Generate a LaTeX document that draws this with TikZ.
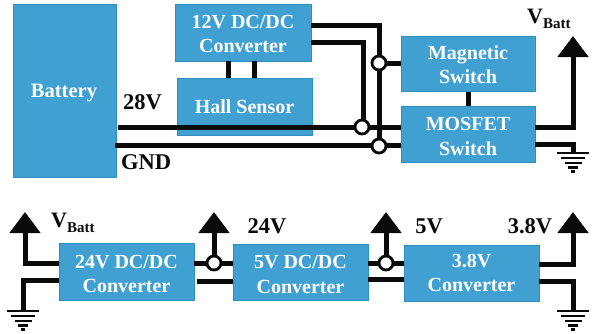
\documentclass[tikz,border=0pt]{standalone}
\usepackage{fontspec}
\setmainfont{Liberation Serif}
\usetikzlibrary{arrows.meta}
\definecolor{boxblue}{HTML}{41A0D2}
\definecolor{boxedge}{HTML}{2F8FC0}
\definecolor{ink}{HTML}{0A0A0A}
\tikzset{
  blockbox/.style={draw=boxedge,fill=boxblue,line width=1pt,text=white,align=center,font=\fontsize{20}{24.5}\selectfont\bfseries,inner sep=0pt},
  wire/.style={draw=ink,line width=5pt,line join=miter},
  uparrow/.style={wire,-{Triangle[width=30pt,length=21pt]},shorten >=0pt},
  junction/.style={circle,draw=ink,fill=white,line width=2.8pt,minimum size=14pt,inner sep=0pt},
  label/.style={text=ink,font=\fontsize{22.5}{24}\selectfont\bfseries,inner sep=0pt},
  vbatt/.style={text=ink,inner sep=0pt,font=\fontsize{22}{24}\selectfont\bfseries},
  pics/earth/.style={code={
    \draw[ink,line width=2.6pt] (-16,0)--(16,0) (-12,5)--(12,5) (-8.5,10)--(8.5,10) (-5,14.5)--(5,14.5) (-2,18.5)--(2,18.5);
  }}
}
\newcommand{\vbt}{V\raisebox{-4.5pt}{\fontsize{15}{16}\selectfont\bfseries Batt}}
\newcommand{\dropa}{\rule{0pt}{16pt}}
\newcommand{\dropb}{\rule{0pt}{18pt}}
\begin{document}
\begin{tikzpicture}[x=1pt,y=-1pt]
\useasboundingbox (0,0) rectangle (592,333);
% blocks
\node[blockbox,minimum width=103pt,minimum height=173pt] (bat) at (64.5,90.5) {};
\node[text=white,font=\fontsize{20.5}{22}\selectfont\bfseries,inner sep=0pt] (batlabel) at (64,93) {Battery};
\node[blockbox,minimum width=136pt,minimum height=57pt] (c12) at (243,32.5) {\dropa 12V DC/DC\\Converter};
\node[blockbox,minimum width=135pt,minimum height=57pt] (hall) at (244.5,106.5) {Hall Sensor};
\node[blockbox,minimum width=134pt,minimum height=55pt] (mag) at (468,63.5) {\dropa Magnetic\\Switch};
\node[blockbox,minimum width=134pt,minimum height=56pt] (mos) at (468,134) {\dropb MOSFET\\Switch};
\node[blockbox,minimum width=135pt,minimum height=57pt] (c24) at (126.5,271.5) {\dropb 24V DC/DC\\Converter};
\node[blockbox,minimum width=135pt,minimum height=56pt] (c5) at (300.5,272) {\dropb 5V DC/DC\\Converter};
\node[blockbox,minimum width=135pt,minimum height=56pt] (c38) at (471.5,273) {3.8V\\Converter};
% named points
\coordinate (p28) at (118,127.5);
\coordinate (pgnd) at (115,145);
\coordinate (c12a) at (311,25);
\coordinate (c12b) at (311,42);
\coordinate (cornerA) at (379,25);
\coordinate (cornerB) at (363,42);
\coordinate (mosA) at (401,127.5);
\coordinate (mosB) at (401,145);
\coordinate (magp) at (401,63);
\coordinate (mosR1) at (535,127);
\coordinate (mosR2) at (535,144);
\coordinate (tip1) at (573,36);
\coordinate (g1) at (573,153);
\coordinate (l24a) at (59,263);
\coordinate (l24b) at (59,280);
\coordinate (tip2) at (25,212);
\coordinate (g2) at (23,311);
\coordinate (tip3) at (214,212);
\coordinate (tip4) at (386,212);
\coordinate (tip5) at (573,212);
\coordinate (g3) at (573,311);
\coordinate (r38a) at (539,264);
\coordinate (r38b) at (539,281);
% wires
\draw[wire] (c12a) -- (cornerA) -- (379,146);
\draw[wire] (c12b) -- (cornerB) -- (363,127);
\draw[wire] (p28) -- (mosA);
\draw[wire] (pgnd) -- (mosB);
\draw[wire] (cornerA |- magp) -- (magp);
\draw[wire] (228,61) -- (228,78);
\draw[wire] (254,61) -- (254,78);
\draw[wire] (mag.south) -- (mos.north);
\draw[uparrow] (mosR1) -| (tip1);
\draw[wire] (mosR2) -| (g1);
\draw[uparrow] (l24a) -| (tip2);
\draw[wire] (l24b) -| (g2);
\draw[wire] (194,263) -- (233,263);
\draw[wire] (197,281) -- (233,281);
\draw[uparrow] (214,263) -- (tip3);
\draw[wire] (368,263) -- (404,263);
\draw[wire] (368,279) -- (404,279);
\draw[uparrow] (386,263) -- (tip4);
\draw[uparrow] (r38a) -| (tip5);
\draw[wire] (r38b) -| (g3);
% junctions
\node[junction] (j1) at (379,63) {};
\node[junction] (j2) at (362,127) {};
\node[junction] (j3) at (379,146) {};
\node[junction] (j4) at (214,263) {};
\node[junction] (j5) at (386,263) {};
% grounds
\pic at (g1) {earth};
\pic at (g2) {earth};
\pic at (g3) {earth};
% labels
\node[label] (t28) at (142.5,102) {28V};
\node[label] (tgnd) at (146,162) {GND};
\node[vbatt,anchor=west] (tv1) at (527,19) {\vbt};
\node[vbatt,anchor=west] (tv2) at (51,223) {\vbt};
\node[label] (t24) at (267,226) {24V};
\node[label] (t5) at (429,226) {5V};
\node[label] (t38) at (530,226) {3.8V};
\end{tikzpicture}
\end{document}
